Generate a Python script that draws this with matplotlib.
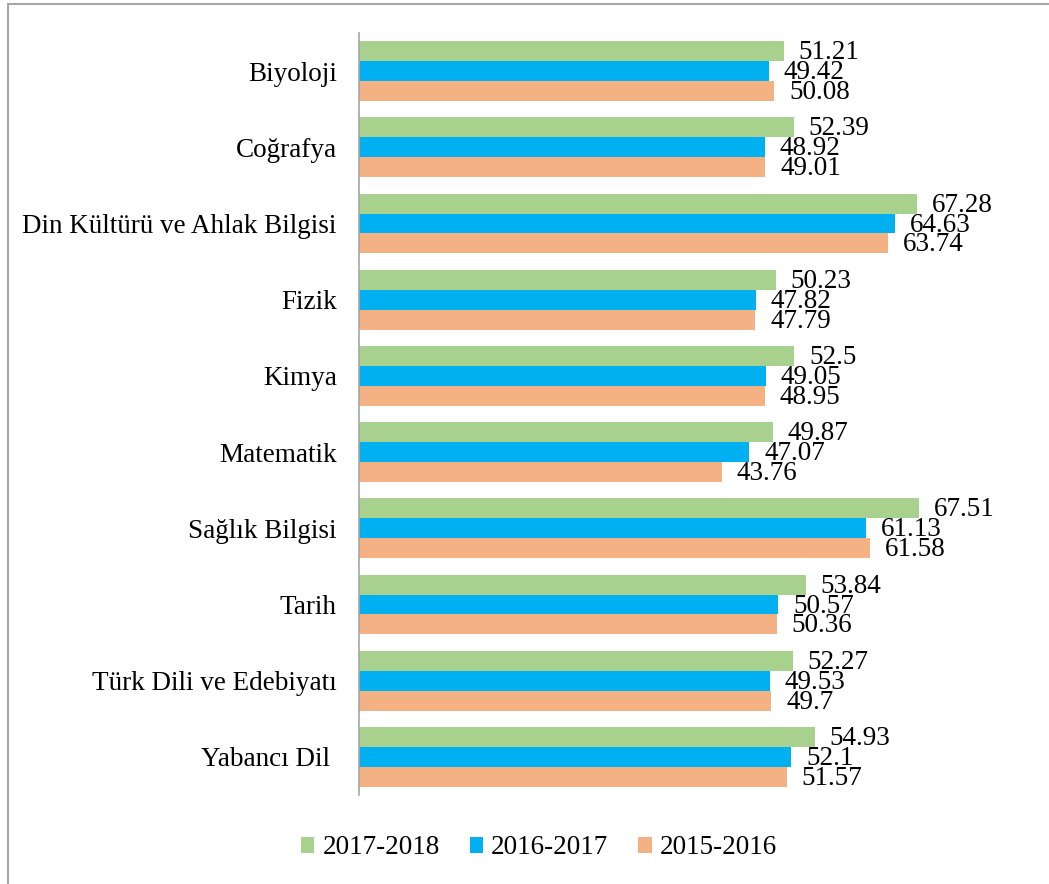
import numpy as np
import matplotlib.pyplot as plt
from matplotlib.patches import Rectangle

plt.rcParams['font.family'] = ['Liberation Serif', 'DejaVu Serif']

subjects = ['Biyoloji', 'Coğrafya', 'Din Kültürü ve Ahlak Bilgisi', 'Fizik', 'Kimya',
            'Matematik', 'Sağlık Bilgisi', 'Tarih', 'Türk Dili ve Edebiyatı', 'Yabancı Dil ']
y2017 = [51.21, 52.39, 67.28, 50.23, 52.5, 49.87, 67.51, 53.84, 52.27, 54.93]
y2016 = [49.42, 48.92, 64.63, 47.82, 49.05, 47.07, 61.13, 50.57, 49.53, 52.1]
y2015 = [50.08, 49.01, 63.74, 47.79, 48.95, 43.76, 61.58, 50.36, 49.7, 51.57]
series = [('2017-2018', y2017, '#A9D18E'),
          ('2016-2017', y2016, '#00B0F0'),
          ('2015-2016', y2015, '#F4B183')]

W, H = 1049, 884
fig = plt.figure(figsize=(W / 100, H / 100), dpi=100)
ax = fig.add_axes([359 / W, 89 / H, (1020 - 359) / W, (795 - 33) / H])

pos = np.arange(len(subjects))
h = 0.262
fs = 19.5
for j, (name, vals, col) in enumerate(series):
    yy = pos + (j - 1) * h
    ax.barh(yy, vals, height=h, color=col, label=name)
    for y, v in zip(yy, vals):
        ax.text(v + 1.8, y + 0.02, f'{v:g}', va='center', ha='left', fontsize=fs)

ax.set_xlim(0, 79.7)
ax.set_ylim(len(subjects) - 0.5, -0.5)
ax.set_yticks(pos)
ax.set_yticklabels(subjects, fontsize=fs)
ax.tick_params(axis='y', length=0, pad=16)
ax.set_xticks([])
for s in ['top', 'right', 'bottom']:
    ax.spines[s].set_visible(False)
ax.spines['left'].set_color('#A6A6A6')
ax.spines['left'].set_linewidth(1.2)

fig.legend(loc='center', bbox_to_anchor=(539 / W, 1 - 848 / H), ncol=3, frameon=False,
           fontsize=fs, handlelength=0.5, handleheight=0.5, handletextpad=0.3,
           columnspacing=1.1)

# outer frame (top and left edges visible)
fig.add_artist(Rectangle((8 / W, -0.1), 1.2, 1 - 4 / H + 0.1, transform=fig.transFigure,
                         fill=False, edgecolor='#A6A6A6', linewidth=1.5))

fig.savefig('out.png', dpi=100)
